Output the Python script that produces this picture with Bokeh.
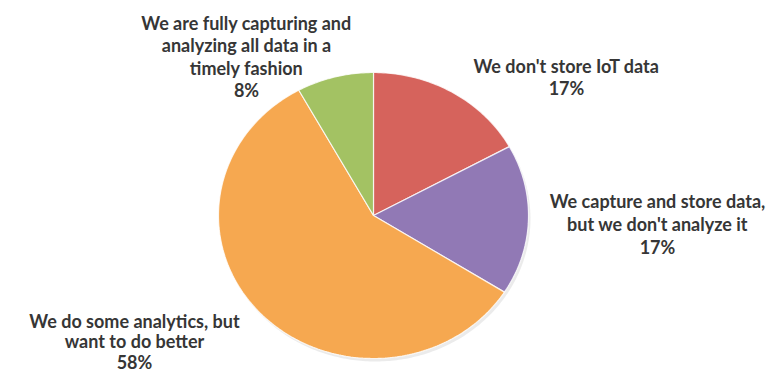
import numpy as np
from bokeh.plotting import figure
from bokeh.models import Range1d, ColumnDataSource
from bokeh.core.properties import value
from bokeh.embed import file_html
from bokeh.resources import INLINE

# ---- data ----
categories = [
    "We don't store IoT data",
    "We capture and store data, but we don't analyze it",
    "We do some analytics, but want to do better",
    "We are fully capturing and analyzing all data in a timely fashion",
]
label_lines = [
    ["We don't store IoT data"],
    ["We capture and store data,", "but we don't analyze it"],
    ["We do some analytics, but", "want to do better"],
    ["We are fully capturing and", "analyzing all data in a", "timely fashion"],
]
values = [17, 17, 58, 8]
colors = ["#D6635C", "#9179B5", "#F6A850", "#A3C263"]

# ---- layout ----
W, H = 774, 376
cx, cy = 373, 215      # pie centre (pixels from top-left)
rx, ry = 155, 143      # pie radii
label_pos = [(566, 65), (657, 200), (134, 320), (246, 22)]  # centre of first line
line_gaps = [22.5, 23, 20.5, 22.5]

p = figure(width=W, height=H, output_backend="svg", toolbar_location=None,
           x_range=Range1d(0, W), y_range=Range1d(H, 0), min_border=0)
p.axis.visible = False
p.grid.visible = False
p.outline_line_color = None
p.background_fill_color = "white"
p.border_fill_color = "white"

total = float(sum(values))
start = np.pi / 2
xs, ys = [], []
for v in values:
    sweep = 2 * np.pi * v / total
    a = np.linspace(start, start - sweep, max(int(v * 4), 8))
    xs.append([cx] + list(cx + rx * np.cos(a)) + [cx])
    ys.append([cy] + list(cy - ry * np.sin(a)) + [cy])
    start -= sweep

# soft shadow
p.patches(xs=[[x + 2 for x in xx] for xx in xs], ys=[[y + 3 for y in yy] for yy in ys],
          fill_color="#000000", fill_alpha=0.08, line_color=None)
src = ColumnDataSource(dict(xs=xs, ys=ys, color=colors, cat=categories))
p.patches(xs="xs", ys="ys", fill_color="color", line_color="white", line_width=1.2,
          line_alpha=0.8, source=src)

tx, ty, tt = [], [], []
for (lx, ly), gap, lines, v in zip(label_pos, line_gaps, label_lines, values):
    for i, s in enumerate(lines + [f"{v}%"]):
        tx.append(lx)
        ty.append(ly + i * gap)
        tt.append(s)
p.text(x=tx, y=ty, text=tt, text_align="center", text_baseline="middle",
       text_font=value("Lato"), text_font_style="bold", text_font_size="18px",
       text_color="#363636")

open("out.html", "w").write(file_html(p, INLINE))
